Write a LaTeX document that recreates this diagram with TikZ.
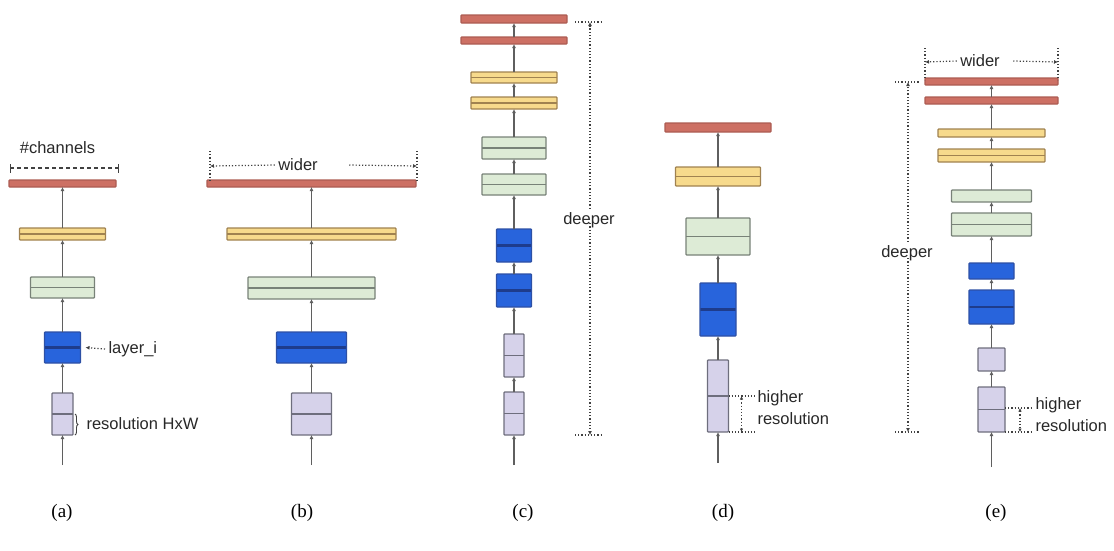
\documentclass[tikz,border=0pt]{standalone}
\usepackage{fontspec}
\setmainfont{Liberation Serif}
\setsansfont{Liberation Sans}
\usetikzlibrary{arrows.meta}
\usetikzlibrary{
    calc,                     % Offsets from block anchors.
    decorations.pathreplacing % Brace next to the resolution block.
}

\definecolor{redfill}{RGB}{205,112,100}
\definecolor{redline}{RGB}{172,92,82}
\definecolor{yellowfill}{RGB}{247,218,140}
\definecolor{yellowline}{RGB}{160,130,80}
\definecolor{greenfill}{RGB}{221,235,214}
\definecolor{greenline}{RGB}{120,130,120}
\definecolor{bluefill}{RGB}{40,100,220}
\definecolor{blueline}{RGB}{45,80,165}
\definecolor{bluemid}{RGB}{30,60,140}
\definecolor{purplefill}{RGB}{214,210,234}
\definecolor{purpleline}{RGB}{110,110,125}
\definecolor{linegray}{RGB}{95,95,95}
\definecolor{notegray}{RGB}{65,65,65}
\definecolor{textgray}{RGB}{40,40,40}

\begin{document}
\begin{tikzpicture}[x=1pt, y=-1pt, >=Latex,
    block/.style={draw, line width=1.2pt, inner sep=0pt, outer sep=0pt, rounded corners=0.8pt},
    redbar/.style={block, fill=redfill, draw=redline},
    yellowbar/.style={block, fill=yellowfill, draw=yellowline},
    greenbox/.style={block, fill=greenfill, draw=greenline},
    bluebox/.style={block, fill=bluefill, draw=blueline},
    purplebox/.style={block, fill=purplefill, draw=purpleline},
    split/.style={path picture={\draw[line width=1.6pt, #1]
        (path picture bounding box.west) -- (path picture bounding box.east);}},
    flow/.style={draw=linegray, line width=1.3pt, -{Latex[length=4pt,width=4pt]}},
    note/.style={draw=notegray, line width=1.2pt, dash pattern=on 1.2pt off 2pt},
    notearrow/.style={note, -{Latex[length=4pt,width=4pt]}},
    notedash/.style={draw=notegray, line width=1.1pt, dash pattern=on 4pt off 3pt},
    label/.style={font=\sffamily\fontsize{16.5}{22}\selectfont, text=textgray},
    caption/.style={font=\rmfamily\fontsize{19}{22}\selectfont}
]

        % Fix the page to the size of the reference.
        \useasboundingbox (0,0) rectangle (1114,550);

        % (a) Baseline network.
        \coordinate (a0) at (62.5,465);
        \node[purplebox, split=purpleline, minimum width=21, minimum height=42] (a1) at (62.5,414) {};
        \node[bluebox, split={bluemid, line width=2.6pt}, minimum width=36, minimum height=31] (a2) at (62.5,347.5) {};
        \node[greenbox, split=greenline, minimum width=64, minimum height=21] (a3) at (62.5,287.5) {};
        \node[yellowbar, split=yellowline, minimum width=86, minimum height=12] (a4) at (62.5,234) {};
        \node[redbar, minimum width=107, minimum height=7] (a5) at (62.5,183.5) {};

        \draw[flow] (a0) -- (a1);
        \draw[flow] (a1) -- (a2);
        \draw[flow] (a2) -- (a3);
        \draw[flow] (a3) -- (a4);
        \draw[flow] (a4) -- (a5);

        % Labels of the baseline.
        \node[label] (chan) at (57.5,148) {\#channels};
        \coordinate (chL) at (10,168);
        \coordinate (chR) at (118,168);
        \draw[notedash] (chL) -- (chR);
        \draw[notegray, line width=0.9pt] (chL) ++(0,-4) -- ++(0,9);
        \draw[notegray, line width=0.9pt] (chR) ++(0,-4) -- ++(0,9);

        \node[label, anchor=west] (layer) at (105,349) {layer\_i};
        \draw[notearrow] (layer.west) -- ($(a2.east)+(5,0)$);

        \draw[draw=notegray, line width=0.9pt, decorate, decoration={brace, amplitude=3pt}]
            ($(a1.east)+(2,0)$) -- ($(a1.south east)+(2,0)$);
        \node[label, anchor=west] (res) at (83,424) {resolution HxW};

        % (b) Width scaling.
        \coordinate (b0) at (311.5,465);
        \node[purplebox, split=purpleline, minimum width=40, minimum height=42] (b1) at (311.5,414) {};
        \node[bluebox, split={bluemid, line width=2.6pt}, minimum width=70, minimum height=31] (b2) at (311.5,347.5) {};
        \node[greenbox, split=greenline, minimum width=127, minimum height=22] (b3) at (311.5,288) {};
        \node[yellowbar, split=yellowline, minimum width=169, minimum height=12] (b4) at (311.5,234) {};
        \node[redbar, minimum width=209, minimum height=7] (b5) at (311.5,183.5) {};

        \draw[flow] (b0) -- (b1);
        \draw[flow] (b1) -- (b2);
        \draw[flow] (b2) -- (b3);
        \draw[flow] (b3) -- (b4);
        \draw[flow] (b4) -- (b5);

        \node[label] (wideb) at (298,165) {wider};
        \coordinate (wbL) at (210,166);
        \coordinate (wbR) at (417,166);
        \draw[notearrow] (wideb.west) -- (wbL);
        \draw[notearrow] ([xshift=28pt]wideb.east) -- (wbR);
        \draw[note] (wbL) ++(0,-15) -- ++(0,30);
        \draw[note] (wbR) ++(0,-15) -- ++(0,30);

        % (c) Depth scaling.
        \coordinate (c0) at (514,465);
        \node[purplebox, split=purpleline, minimum width=20, minimum height=43] (c1) at (514,413.5) {};
        \node[purplebox, split=purpleline, minimum width=20, minimum height=43] (c2) at (514,355.5) {};
        \node[bluebox, split={bluemid, line width=2.6pt}, minimum width=35, minimum height=33] (c3) at (514,290.5) {};
        \node[bluebox, split={bluemid, line width=2.6pt}, minimum width=35, minimum height=33] (c4) at (514,245.5) {};
        \node[greenbox, split=greenline, minimum width=64, minimum height=21] (c5) at (514,184.5) {};
        \node[greenbox, split=greenline, minimum width=64, minimum height=22] (c6) at (514,148) {};
        \node[yellowbar, split=yellowline, minimum width=86, minimum height=12] (c7) at (514,103) {};
        \node[yellowbar, split=yellowline, minimum width=86, minimum height=11] (c8) at (514,77.5) {};
        \node[redbar, minimum width=106, minimum height=7] (c9) at (514,40.5) {};
        \node[redbar, minimum width=106, minimum height=8] (c10) at (514,19) {};

        \draw[flow] (c0) -- (c1);
        \draw[flow] (c1) -- (c2);
        \draw[flow] (c2) -- (c3);
        \draw[flow] (c3) -- (c4);
        \draw[flow] (c4) -- (c5);
        \draw[flow] (c5) -- (c6);
        \draw[flow] (c6) -- (c7);
        \draw[flow] (c7) -- (c8);
        \draw[flow] (c8) -- (c9);
        \draw[flow] (c9) -- (c10);

        \node[label] (deepc) at (589,220) {deeper};
        \coordinate (dcT) at (590,22);
        \coordinate (dcB) at (590,435);
        \draw[notearrow] (deepc.north -| dcT) -- (dcT);
        \draw[notearrow] ([yshift=8pt]deepc.south -| dcB) -- (dcB);
        \draw[note] (dcT) ++(-15,0) -- ++(28,0);
        \draw[note] (dcB) ++(-15,0) -- ++(28,0);

        % (d) Resolution scaling.
        \coordinate (d0) at (718,463);
        \node[purplebox, split=purpleline, minimum width=21, minimum height=72] (d1) at (718,396) {};
        \node[bluebox, split={bluemid, line width=2.6pt}, minimum width=36, minimum height=53] (d2) at (718,309.5) {};
        \node[greenbox, split=greenline, minimum width=64, minimum height=37] (d3) at (718,236.5) {};
        \node[yellowbar, split=yellowline, minimum width=85, minimum height=19] (d4) at (718,176.5) {};
        \node[redbar, minimum width=106, minimum height=9] (d5) at (718,127.5) {};

        \draw[flow] (d0) -- (d1);
        \draw[flow] (d1) -- (d2);
        \draw[flow] (d2) -- (d3);
        \draw[flow] (d3) -- (d4);
        \draw[flow] (d4) -- (d5);

        \draw[note] (d1.east) -- ++(28,0);
        \draw[note] (d1.south east) -- ++(28,0);
        \draw[note, {Latex[length=3.5pt,width=3.5pt]}-{Latex[length=3.5pt,width=3.5pt]}]
            ($(d1.east)+(13,0)$) -- ($(d1.south east)+(13,0)$);
        \node[label, anchor=west, align=left] (hrd) at (754,408) {higher\\resolution};

        % (e) Compound scaling.
        \coordinate (e0) at (991.5,467);
        \node[purplebox, split=purpleline, minimum width=27, minimum height=45] (e1) at (991.5,409.5) {};
        \node[purplebox, minimum width=27, minimum height=23] (e2) at (991.5,359.5) {};
        \node[bluebox, split={bluemid, line width=2.6pt}, minimum width=45, minimum height=34] (e3) at (991.5,307) {};
        \node[bluebox, minimum width=45, minimum height=16] (e4) at (991.5,271) {};
        \node[greenbox, split=greenline, minimum width=80, minimum height=23] (e5) at (991.5,224.5) {};
        \node[greenbox, minimum width=80, minimum height=12] (e6) at (991.5,196) {};
        \node[yellowbar, split=yellowline, minimum width=107, minimum height=13] (e7) at (991.5,155.5) {};
        \node[yellowbar, minimum width=107, minimum height=8] (e8) at (991.5,133) {};
        \node[redbar, minimum width=133, minimum height=7] (e9) at (991.5,100.5) {};
        \node[redbar, minimum width=133, minimum height=7] (e10) at (991.5,81.5) {};

        \draw[flow] (e0) -- (e1);
        \draw[flow] (e1) -- (e2);
        \draw[flow] (e2) -- (e3);
        \draw[flow] (e3) -- (e4);
        \draw[flow] (e4) -- (e5);
        \draw[flow] (e5) -- (e6);
        \draw[flow] (e6) -- (e7);
        \draw[flow] (e7) -- (e8);
        \draw[flow] (e8) -- (e9);
        \draw[flow] (e9) -- (e10);

        \node[label] (widee) at (980,61) {wider};
        \coordinate (weL) at (925,62);
        \coordinate (weR) at (1058,62);
        \draw[notearrow] (widee.west) -- (weL);
        \draw[notearrow] ([xshift=10pt]widee.east) -- (weR);
        \draw[note] (weL) ++(0,-14) -- ++(0,32);
        \draw[note] (weR) ++(0,-14) -- ++(0,32);

        \node[label] (deepe) at (907,253) {deeper};
        \coordinate (deT) at (908,82);
        \coordinate (deB) at (908,432);
        \draw[notearrow] (deepe.north -| deT) -- (deT);
        \draw[notearrow] ([yshift=6pt]deepe.south -| deB) -- (deB);
        \draw[note] (deT) ++(-13,0) -- ++(25,0);
        \draw[note] (deB) ++(-13,0) -- ++(25,0);

        \draw[note] (e1.east) ++(0,-1.5) -- ++(28,0);
        \draw[note] (e1.south east) -- ++(28,0);
        \draw[note, {Latex[length=3.5pt,width=3.5pt]}-{Latex[length=3.5pt,width=3.5pt]}]
            ($(e1.east)+(15,-1.5)$) -- ($(e1.south east)+(15,0)$);
        \node[label, anchor=west, align=left] (hre) at (1032,414.5) {higher\\resolution};

        % Captions below the five networks.
        \node[caption] (capa) at (62,513) {(a)};
        \node[caption] (capb) at (302,513) {(b)};
        \node[caption] (capc) at (523,513) {(c)};
        \node[caption] (capd) at (723,513) {(d)};
        \node[caption] (cape) at (996,513) {(e)};
    \end{tikzpicture}
\end{document}
